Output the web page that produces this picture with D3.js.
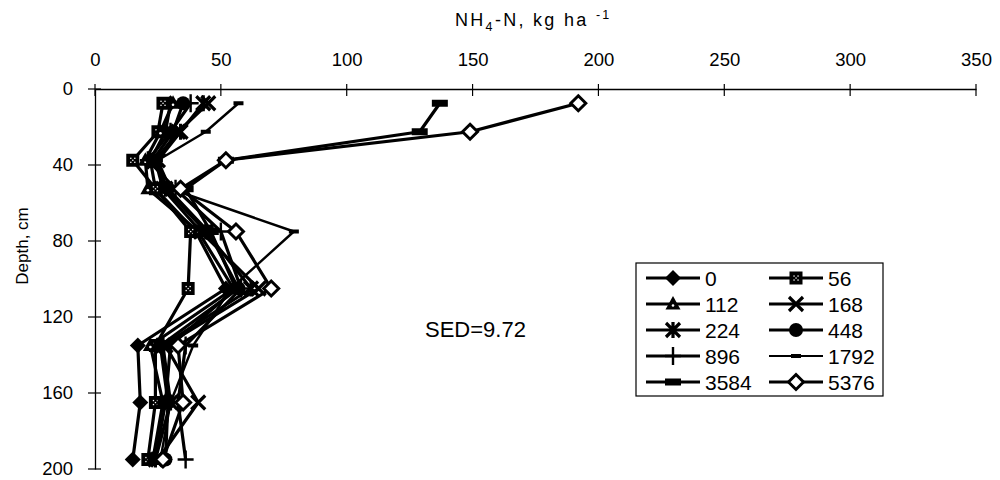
<!DOCTYPE html>
<html><head><meta charset="utf-8">
<script src="https://cdn.jsdelivr.net/npm/d3@7"></script>
<style>body{margin:0;background:#fff}svg{display:block}text{font-family:"Liberation Sans",Arial,sans-serif;fill:#000}</style>
</head><body>
<svg id="c" width="1000" height="480"></svg>
<script>
const depths = [7.5, 22.5, 37.5, 52.5, 75, 105, 135, 165, 195];
const seriesNames = ["0","56","112","168","224","448","896","1792","3584","5376"];
const s0    = [30, 28, 22, 24, 40, 52, 17, 18, 15];
const s56   = [27, 25, 15, 24, 38, 37, 24, 24, 21];
const s112  = [31, 26, 20, 21, 41, 55, 22, 27, 23];
const s168  = [45, 33, 24, 27, 42, 65, 28, 41, 25];
const s224  = [43, 34, 25, 28, 44, 62, 27, 30, 24];
const s448  = [35, 31, 23, 29, 45, 57, 26, 29, 28];
const s896  = [38, 30, 21, 32, 50, 58, 36, 33, 36];
const s1792 = [57, 44, 25, 30, 79, 54, 39, 30, 26];
const s3584 = [137, 129, 52, 36, 46, 56, 30, 28, 24];
const s5376 = [192, 149, 52, 34, 56, 70, 33, 35, 27];
const xTicks = [0, 50, 100, 150, 200, 250, 300, 350];
const yTicks = [0, 40, 80, 120, 160, 200];
const markerTypes = ["fdiamond","square","triangle","x","asterisk","circle","plus","dash","bar","odiamond"];

const allSeries = [s0,s56,s112,s168,s224,s448,s896,s1792,s3584,s5376];
const svg = d3.select("#c");
const x = d3.scaleLinear().domain([0,350]).range([95,976]);
const y = d3.scaleLinear().domain([0,200]).range([89,469]);

// axes
const topAxis = svg.append("g").attr("transform","translate(0,89)")
  .call(d3.axisTop(x).tickValues(xTicks).tickSize(0).tickPadding(23));
topAxis.select(".domain").attr("stroke","#000").attr("stroke-width",1.3);
topAxis.selectAll("text").style("font-size","18.5px").style("font-family","'Liberation Sans',Arial,sans-serif");
svg.append("g").selectAll("line").data(xTicks).join("line")
  .attr("x1",d=>x(d)).attr("x2",d=>x(d)).attr("y1",84).attr("y2",96).attr("stroke","#000").attr("stroke-width",1.2);

const leftAxis = svg.append("g").attr("transform","translate(95,0)")
  .call(d3.axisLeft(y).tickValues(yTicks).tickSize(0).tickPadding(22));
leftAxis.select(".domain").attr("stroke","#000").attr("stroke-width",1.3);
leftAxis.selectAll("text").style("font-size","18.5px").style("font-family","'Liberation Sans',Arial,sans-serif");
svg.append("g").selectAll("line").data(yTicks).join("line")
  .attr("x1",88).attr("x2",101).attr("y1",d=>y(d)).attr("y2",d=>y(d)).attr("stroke","#000").attr("stroke-width",1.2);

// titles
const t = svg.append("text").attr("x",455).attr("y",26).style("font-size","18px").style("letter-spacing","2.3px");
t.append("tspan").text("NH");
t.append("tspan").attr("dy",5).style("font-size","12.5px").text("4");
t.append("tspan").attr("dy",-5).text("-N, kg ha ");
t.append("tspan").attr("dy",-7).style("font-size","12.5px").text("-1");
svg.append("text").attr("transform","translate(28,246) rotate(-90)").attr("text-anchor","middle")
  .style("font-size","17px").text("Depth, cm");
svg.append("text").attr("x",425).attr("y",337).style("font-size","22px").text("SED=9.72");

// marker drawer
function drawMarker(g, type, cx, cy){
  switch(type){
    case "fdiamond":
      g.append("path").attr("d",`M${cx},${cy-8}L${cx+8},${cy}L${cx},${cy+8}L${cx-8},${cy}Z`).attr("fill","#000"); break;
    case "square":
      g.append("rect").attr("x",cx-6.5).attr("y",cy-6.5).attr("width",13).attr("height",13).attr("fill","#000");
      [[-2,-2],[2,-2],[0,0],[-2,2],[2,2]].forEach(p=>g.append("rect").attr("x",cx+p[0]-0.6).attr("y",cy+p[1]-0.6).attr("width",1.3).attr("height",1.3).attr("fill","#fff"));
      break;
    case "triangle":
      g.append("path").attr("d",`M${cx},${cy-8}L${cx+7.5},${cy+5.5}L${cx-7.5},${cy+5.5}Z`).attr("fill","#000");
      g.append("circle").attr("cx",cx).attr("cy",cy+1.5).attr("r",1.3).attr("fill","#fff"); break;
    case "x":
      g.append("path").attr("d",`M${cx-7},${cy-7}L${cx+7},${cy+7}M${cx+7},${cy-7}L${cx-7},${cy+7}`).attr("stroke","#000").attr("stroke-width",3.2); break;
    case "asterisk":
      g.append("path").attr("d",`M${cx-7},${cy-7}L${cx+7},${cy+7}M${cx+7},${cy-7}L${cx-7},${cy+7}M${cx},${cy-8}L${cx},${cy+8}`).attr("stroke","#000").attr("stroke-width",3.2); break;
    case "circle":
      g.append("circle").attr("cx",cx).attr("cy",cy).attr("r",7).attr("fill","#000"); break;
    case "plus":
      g.append("path").attr("d",`M${cx},${cy-9}L${cx},${cy+9}M${cx-8},${cy}L${cx+8},${cy}`).attr("stroke","#000").attr("stroke-width",2.4); break;
    case "dash":
      g.append("rect").attr("x",cx-5).attr("y",cy-2).attr("width",10).attr("height",4).attr("fill","#000"); break;
    case "bar":
      g.append("rect").attr("x",cx-8).attr("y",cy-3.5).attr("width",16).attr("height",7).attr("fill","#000"); break;
    case "odiamond":
      g.append("path").attr("d",`M${cx},${cy-7.5}L${cx+7.5},${cy}L${cx},${cy+7.5}L${cx-7.5},${cy}Z`).attr("fill","#fff").attr("stroke","#000").attr("stroke-width",3); break;
  }
}

const line = d3.line().x(d=>x(d[0])).y(d=>y(d[1]));
const plot = svg.append("g");
allSeries.forEach((vals,i)=>{
  const pts = vals.map((v,j)=>[v,depths[j]]);
  plot.append("path").attr("d",line(pts)).attr("fill","none").attr("stroke","#000")
    .attr("stroke-width",i===7?2.4:3.2).attr("stroke-linejoin","round");
});
allSeries.forEach((vals,i)=>{
  const g = plot.append("g");
  vals.forEach((v,j)=>drawMarker(g, markerTypes[i], x(v), y(depths[j])));
});

// legend
svg.append("rect").attr("x",636).attr("y",263).attr("width",247).attr("height",133)
  .attr("fill","#fff").attr("stroke","#000").attr("stroke-width",1.2);
seriesNames.forEach((name,i)=>{
  const col = i%2, row = Math.floor(i/2);
  const lx = col===0 ? 646 : 769;
  const ly = 278 + row*26;
  const g = svg.append("g");
  g.append("line").attr("x1",lx).attr("x2",lx+54).attr("y1",ly).attr("y2",ly).attr("stroke","#000").attr("stroke-width",i===7?2.2:3);
  drawMarker(g, markerTypes[i], lx+27, ly);
  g.append("text").attr("x",lx+59).attr("y",ly+8).style("font-size","21px").text(name);
});
</script>
</body></html>
